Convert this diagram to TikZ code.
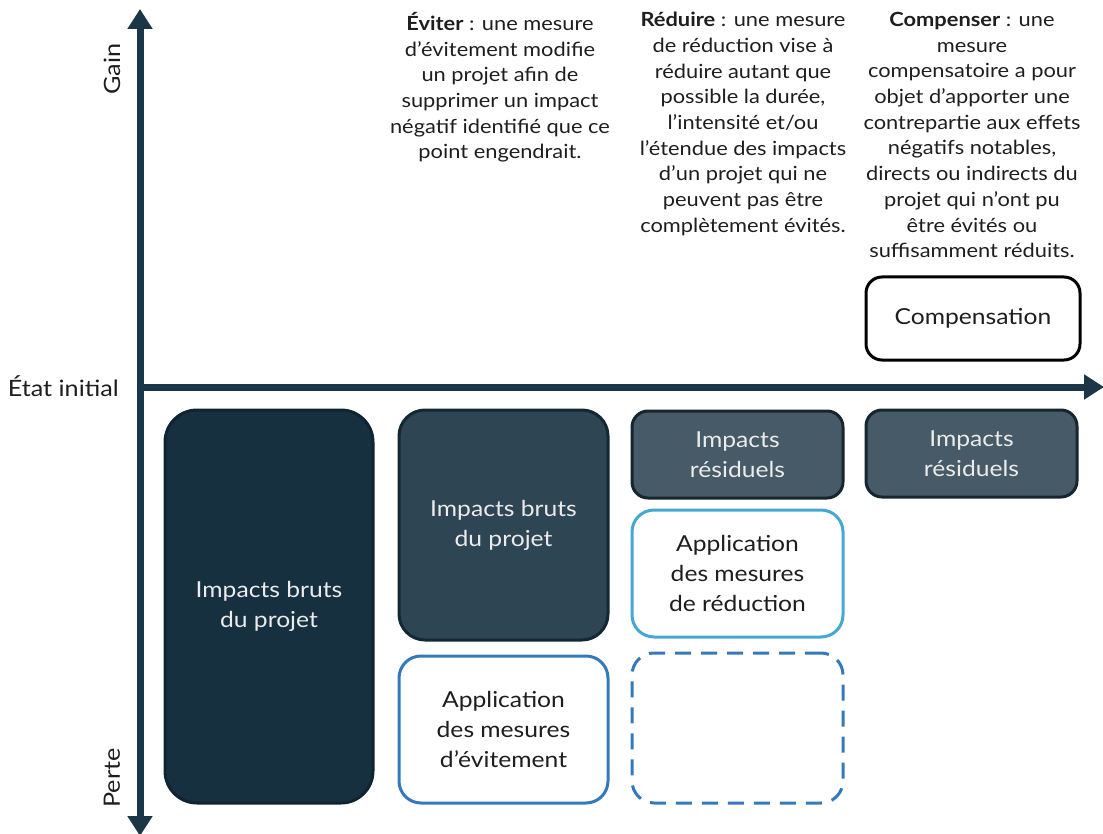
\documentclass[tikz,border=0pt]{standalone}
\usepackage{fontspec}
\setmainfont{Lato}[FakeStretch=1.12]
\usetikzlibrary{arrows.meta}
\definecolor{axiscol}{HTML}{1B3646}
\definecolor{darkfill}{HTML}{17303F}
\definecolor{darkline}{HTML}{0F2430}
\definecolor{midfill}{HTML}{2E4553}
\definecolor{midline}{HTML}{132833}
\definecolor{resfill}{HTML}{465A67}
\definecolor{resline}{HTML}{16262F}
\definecolor{bluecol}{HTML}{3479BD}
\definecolor{lightblue}{HTML}{45A8D2}
\definecolor{txt}{HTML}{1E1E1E}
\tikzset{
  axisline/.style={line width=7pt, color=axiscol, -{Triangle[length=20pt,width=24pt]}},
  boxbase/.style={rounded corners=16pt, line width=3pt, align=center, font=\fontsize{22}{30}\selectfont, inner sep=0pt},
  darkbox/.style={boxbase, fill=darkfill, draw=darkline, text=white!92!black, rounded corners=32pt},
  midbox/.style={boxbase, fill=midfill, draw=midline, text=white!92!black, rounded corners=26pt},
  resbox/.style={boxbase, fill=resfill, draw=resline, text=white!92!black},
  bluebox/.style={boxbase, fill=white, draw=bluecol, text=txt, rounded corners=22pt},
  lbluebox/.style={boxbase, fill=white, draw=lightblue, text=txt, rounded corners=22pt},
  dashbox/.style={boxbase, draw=bluecol, dash pattern=on 16pt off 10pt, rounded corners=22pt},
  blackbox/.style={boxbase, fill=white, draw=black, text=txt},
  desc/.style={align=center, text=txt, font=\fontsize{19.5}{25.7}\selectfont, inner sep=0pt, anchor=north},
  axlabel/.style={text=txt, font=\fontsize{22.5}{25}\selectfont, inner sep=0pt}
}
\begin{document}
\begin{tikzpicture}[x=1pt,y=-1pt]
\useasboundingbox (0,0) rectangle (1103,834);
% axes
\coordinate (origin) at (140,387);
\coordinate (ytop) at (140,9);
\coordinate (ybot) at (140,836);
\coordinate (xend) at (1104,387);
\draw[axisline] (origin) -- (ytop);
\draw[axisline] (origin) -- (ybot);
\draw[axisline] (136.5,387) -- (xend);
% axis labels
\node[axlabel, rotate=90] (gain) at (112,69) {Gain};
\node[axlabel, rotate=90] (perte) at (112,778) {Perte};
\node[axlabel, anchor=east] (etat) at (119,386) {État initial};
% boxes
\node[darkbox, minimum width=208pt, minimum height=393pt] (bruts1) at (269,606.5) {Impacts bruts\\du projet};
\node[midbox, minimum width=209pt, minimum height=230pt] (bruts2) at (503.5,525) {Impacts bruts\\du projet};
\node[bluebox, minimum width=209pt, minimum height=147pt] (evit) at (503.5,729.5) {Application\\des mesures\\d’évitement};
\node[resbox, minimum width=211pt, minimum height=87pt] (res1) at (737.5,454.5) {Impacts\\résiduels};
\node[lbluebox, minimum width=211pt, minimum height=127pt] (redu) at (737.5,573.5) {Application\\des mesures\\de réduction};
\node[dashbox, minimum width=211pt, minimum height=150pt] (dash) at (737.5,728) {};
\node[resbox, minimum width=211pt, minimum height=87pt] (res2) at (971.5,453.5) {Impacts\\résiduels};
\node[blackbox, minimum width=214pt, minimum height=83pt] (comp) at (973,318.5) {Compensation};
% descriptions
\node[desc] (deviter) at (500,12) {\textbf{Éviter} : une mesure\\d’évitement modifie\\un projet afin de\\supprimer un impact\\négatif identifié que ce\\point engendrait.};
\node[desc] (dreduire) at (743,12) {\textbf{Réduire} : une mesure\\de réduction vise à\\réduire autant que\\possible la durée,\\l’intensité et/ou\\l’étendue des impacts\\d’un projet qui ne\\peuvent pas être\\complètement évités.};
\node[desc] (dcomp) at (972,12) {\textbf{Compenser} : une\\mesure\\compensatoire a pour\\objet d’apporter une\\contrepartie aux effets\\négatifs notables,\\directs ou indirects du\\projet qui n’ont pu\\être évités ou\\suffisamment réduits.};
\end{tikzpicture}
\end{document}
